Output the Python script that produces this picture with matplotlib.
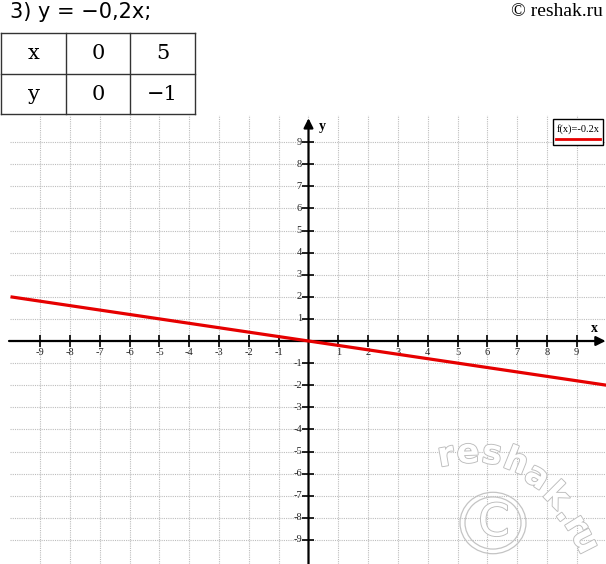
import matplotlib
matplotlib.use('Agg')
import matplotlib.pyplot as plt
import matplotlib.patheffects as pe
from matplotlib.patches import Rectangle, Circle
from matplotlib.lines import Line2D

# data
line_x = [-10, 0, 5, 10]
line_y = [2, 0, -1, -2]
table_x = ['x', '0', '5']
table_y = ['y', '0', '\u22121']
tick_vals = [-9, -8, -7, -6, -5, -4, -3, -2, -1, 1, 2, 3, 4, 5, 6, 7, 8, 9]
grid_vals = [-9, -8, -7, -6, -5, -4, -3, -2, -1, 0, 1, 2, 3, 4, 5, 6, 7, 8, 9]

W, H = 606, 564


def fx(px):
    return px / W


def fy(py):
    return 1 - py / H


fig = plt.figure(figsize=(W / 100, H / 100), dpi=100)

# header text
fig.text(fx(10), fy(12), '3) y = \u22120,2x;', fontsize=15, family='DejaVu Sans',
         va='center', ha='left')
fig.text(fx(603), fy(11), '\u00a9 reshak.ru', fontsize=14, family='Liberation Serif',
         va='center', ha='right')

# little value table
cols = [1, 66, 130, 195]
rows = [33, 74, 114]
for c in cols:
    fig.add_artist(Line2D([fx(c), fx(c)], [fy(rows[0]), fy(rows[-1])], color='#333333', lw=1))
for r in rows:
    fig.add_artist(Line2D([fx(cols[0]), fx(cols[-1])], [fy(r), fy(r)], color='#333333', lw=1))
for i in range(3):
    cx = (cols[i] + cols[i + 1]) / 2
    fig.text(fx(cx), fy((rows[0] + rows[1]) / 2), table_x[i], fontsize=15,
             family='DejaVu Serif', ha='center', va='center')
    fig.text(fx(cx), fy((rows[1] + rows[2]) / 2), table_y[i], fontsize=15,
             family='DejaVu Serif', ha='center', va='center')

# graph area
x0, x1, ytop, ybot = 8, 606, 115, 564
ox, oy, sx, sy = 308.5, 341, 29.8, 22.1
ax = fig.add_axes([fx(x0), fy(ybot), (x1 - x0) / W, (ybot - ytop) / H])
ax.set_xlim((x0 - ox) / sx, (x1 - ox) / sx)
ax.set_ylim(-(ybot - oy) / sy, (oy - ytop) / sy)
ax.axis('off')

gstyle = dict(color='#bdbdbd', lw=0.8, ls=(0, (1, 1)), zorder=1)
for g in grid_vals:
    ax.axvline(g, **gstyle)
    ax.plot([-10.01, 10], [g, g], **gstyle)

# axes with arrows
ax.annotate('', xy=(9.97, 0), xytext=(-10.05, 0),
            arrowprops=dict(arrowstyle='-|>', color='black', lw=1.6, mutation_scale=14,
                            shrinkA=0, shrinkB=0), zorder=3)
ax.annotate('', xy=(0, 10.08), xytext=(0, -10.2),
            arrowprops=dict(arrowstyle='-|>', color='black', lw=1.6, mutation_scale=14,
                            shrinkA=0, shrinkB=0), zorder=3)

ax.plot(tick_vals, [0] * len(tick_vals), ls='none', marker='|', ms=8, mew=1.2,
        color='black', zorder=3)
ax.plot([0] * len(tick_vals), tick_vals, ls='none', marker='_', ms=8, mew=1.2,
        color='black', zorder=3)

for t in tick_vals:
    ax.text(t, -0.5, str(t), fontsize=7.5, family='Liberation Serif', ha='center',
            va='center', color='#222222', zorder=4)
    ax.text(-0.22, t, str(t), fontsize=7.5, family='Liberation Serif', ha='right',
            va='center', color='#222222', zorder=4)

ax.text(9.6, 0.55, 'x', fontsize=10, family='Liberation Serif', fontweight='bold',
        ha='center', va='center')
ax.text(0.45, 9.7, 'y', fontsize=10, family='Liberation Serif', fontweight='bold',
        ha='center', va='center')

# the function
ax.plot(line_x, line_y, color='#e60000', lw=2.3, zorder=5, solid_capstyle='butt')

# legend box
fig.add_artist(Rectangle((fx(553), fy(145)), 50 / W, 26 / H, facecolor='white',
                         edgecolor='black', lw=1, zorder=6))
fig.text(fx(578), fy(129), 'f(x)=-0.2x', fontsize=7.5, family='Liberation Serif',
         ha='center', va='center', zorder=7)
fig.add_artist(Line2D([fx(556), fx(600)], [fy(138.5), fy(138.5)], color='#e60000',
                      lw=2, zorder=7))

# watermark
wm = [('r', 446, 456, 10), ('e', 468, 453, 2), ('s', 492, 454, -8),
      ('h', 516, 462, -22), ('a', 537, 477, -33), ('k', 556, 496, -45),
      ('.', 566, 513, -52), ('r', 576, 525, -58), ('u', 585, 541, -63)]
outline = [pe.withStroke(linewidth=1.3, foreground='#bcbcbc')]
for ch, px, py, rot in wm:
    t = fig.text(fx(px), fy(py), ch, fontsize=24, family='DejaVu Sans', fontweight='bold',
                 color='white', rotation=rot, ha='center', va='center', zorder=8)
    t.set_path_effects(outline)
for rad in (33, 28):
    fig.add_artist(Circle((fx(493), fy(523)), rad / W, transform=fig.transFigure,
                          fill=False, edgecolor='#c4c4c4', lw=0.9, zorder=8))
ct = fig.text(fx(494), fy(523), 'C', fontsize=32, family='DejaVu Sans', color='white',
              ha='center', va='center', zorder=8)
ct.set_path_effects(outline)

fig.savefig('out.png', dpi=100)
